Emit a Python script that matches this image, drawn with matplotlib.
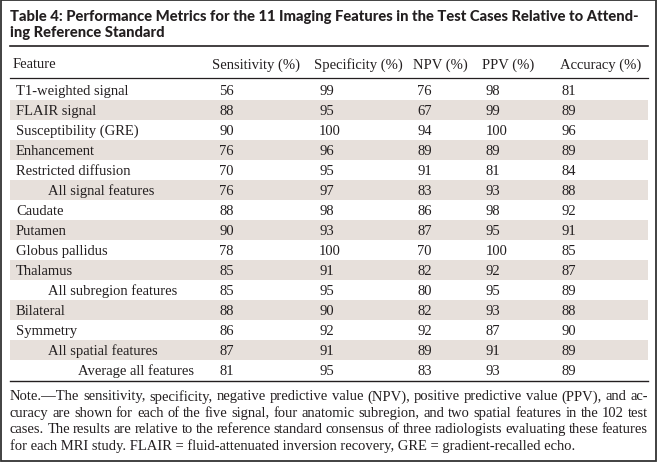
import matplotlib
matplotlib.use("Agg")
import matplotlib.pyplot as plt
from matplotlib.patches import Rectangle

# table content
title_lines = [
    "Table 4: Performance Metrics for the 11 Imaging Features in the Test Cases Relative to Attend-",
    "ing Reference Standard",
]
col_headers = ["Feature", "Sensitivity (%)", "Specificity (%)", "NPV (%)", "PPV (%)", "Accuracy (%)"]
features = [
    "T1-weighted signal", "FLAIR signal", "Susceptibility (GRE)", "Enhancement",
    "Restricted diffusion", "All signal features", "Caudate", "Putamen",
    "Globus pallidus", "Thalamus", "All subregion features", "Bilateral",
    "Symmetry", "All spatial features", "Average all features",
]
indent_level = [0, 0, 0, 0, 0, 1, 0, 0, 0, 0, 1, 0, 0, 1, 2]
sensitivity = [56, 88, 90, 76, 70, 76, 88, 90, 78, 85, 85, 88, 86, 87, 81]
specificity = [99, 95, 100, 96, 95, 97, 98, 93, 100, 91, 95, 90, 92, 91, 95]
npv = [76, 67, 94, 89, 91, 83, 86, 87, 70, 82, 80, 82, 92, 89, 83]
ppv = [98, 99, 100, 89, 81, 93, 98, 95, 100, 92, 95, 93, 87, 91, 93]
accuracy = [81, 89, 96, 89, 84, 88, 92, 91, 85, 87, 89, 88, 90, 89, 89]
note_lines = [
    "Note.\u2014The sensitivity, specificity, negative predictive value (NPV), positive predictive value (PPV), and ac-",
    "curacy are shown for each of the five signal, four anatomic subregion, and two spatial features in the 102 test",
    "cases. The results are relative to the reference standard consensus of three radiologists evaluating these features",
    "for each MRI study. FLAIR = fluid-attenuated inversion recovery, GRE = gradient-recalled echo.",
]

W, H = 660, 464
TEXT = "#231f20"
SHADE = "#e7e0db"
SERIF = "Liberation Serif"
TITLE_FONT = "Lato"
BODY_FS = 10.5

fig = plt.figure(figsize=(W / 100, H / 100), dpi=100)
ax = fig.add_axes([0, 0, 1, 1])
ax.set_xlim(0, W)
ax.set_ylim(H, 0)
ax.axis("off")

fig.canvas.draw()
renderer = fig.canvas.get_renderer()


def text_width(s, **kw):
    t = ax.text(0, 0, s, **kw)
    bb = t.get_window_extent(renderer)
    t.remove()
    return bb.width


# outer frame
ax.add_patch(Rectangle((0.8, 0.8), 655, 461, fill=False, ec="#333333", lw=1.3))

# title, sized so that the first line runs to the hyphen position of the original
title_kw = dict(fontweight="black", family=TITLE_FONT)
tw = text_width(title_lines[0], fontsize=10, **title_kw)
title_fs = 10 * 627 / tw
for i, line in enumerate(title_lines):
    ax.text(10, 17 + 16.5 * i, line, fontsize=title_fs, color=TEXT,
            va="center", ha="left", **title_kw)

x0, x1 = 10, 648
ax.plot([x0, x1], [46.5, 46.5], color=TEXT, lw=1.2)
ax.plot([x0, x1], [78.5, 78.5], color=TEXT, lw=0.9)

# header
header_x = [13, 212, 314, 413, 482, 560]
for hx, h in zip(header_x, col_headers):
    ax.text(hx, 65, h, fontsize=BODY_FS, family=SERIF, color=TEXT, va="center", ha="left")

# rows
row_top, row_h = 80.5, 20
value_x = [219, 319, 417, 486, 562]
columns = [sensitivity, specificity, npv, ppv, accuracy]
indent_x = [16, 48, 78]
for i, name in enumerate(features):
    top = row_top + row_h * i
    if i % 2 == 1:
        ax.add_patch(Rectangle((x0, top), x1 - x0, row_h, fc=SHADE, ec="none", zorder=0))
    yc = top + row_h / 2 + 1
    ax.text(indent_x[indent_level[i]], yc, name, fontsize=BODY_FS, family=SERIF,
            color=TEXT, va="center", ha="left")
    for vx, col in zip(value_x, columns):
        ax.text(vx, yc, str(col[i]), fontsize=BODY_FS, family=SERIF,
                color=TEXT, va="center", ha="left")

bottom = row_top + row_h * len(features)
ax.plot([x0, x1], [bottom + 1, bottom + 1], color=TEXT, lw=1.0)

# note, justified except the last line
for i, line in enumerate(note_lines):
    y = 397 + 16.5 * i
    if i == len(note_lines) - 1:
        ax.text(x0, y, line, fontsize=BODY_FS, family=SERIF, color=TEXT, va="center", ha="left")
        continue
    words = line.split(" ")
    widths = [text_width(w, fontsize=BODY_FS, family=SERIF) for w in words]
    gap = ((x1 - x0) - sum(widths)) / (len(words) - 1)
    x = x0
    for w, wd in zip(words, widths):
        ax.text(x, y, w, fontsize=BODY_FS, family=SERIF, color=TEXT, va="center", ha="left")
        x += wd + gap

fig.savefig("out.png", dpi=100)
